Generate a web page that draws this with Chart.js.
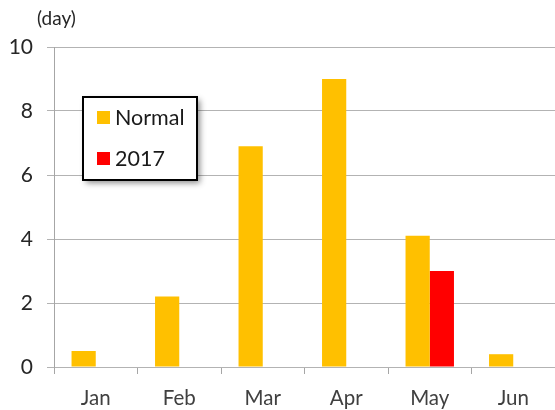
<!DOCTYPE html>
<html>
<head>
<meta charset="utf-8">
<script src="https://cdn.jsdelivr.net/npm/chart.js@4"></script>
<style>
  html, body { margin: 0; padding: 0; background: #fff; }
  #wrap { width: 555px; height: 410px; position: relative; }
</style>
</head>
<body>
<div id="wrap"><canvas id="chart"></canvas></div>
<script>
// chart data
const months = ['Jan', 'Feb', 'Mar', 'Apr', 'May', 'Jun'];
const normalDays = [0.5, 2.2, 6.9, 9.0, 4.1, 0.4];
const days2017 = [null, null, null, null, 3.0, null];
const yTicks = [0, 2, 4, 6, 8, 10];
const unitLabel = '(day)';

const FONT = 'Lato, "Liberation Sans", sans-serif';

// draws the "(day)" caption and the boxed legend with a drop shadow
const extras = {
  id: 'extras',
  afterDraw(chart) {
    const ctx = chart.ctx;
    ctx.save();
    ctx.fillStyle = '#262626';
    ctx.font = '19px ' + FONT;
    ctx.textAlign = 'left';
    ctx.textBaseline = 'middle';
    ctx.fillText(unitLabel, 37, 19);

    // legend box
    const bx = 83, by = 97, bw = 114, bh = 83;
    ctx.shadowColor = 'rgba(0,0,0,0.45)';
    ctx.shadowBlur = 6;
    ctx.shadowOffsetX = 3;
    ctx.shadowOffsetY = 3;
    ctx.fillStyle = '#fff';
    ctx.fillRect(bx, by, bw, bh);
    ctx.shadowColor = 'transparent';
    ctx.lineWidth = 2;
    ctx.strokeStyle = '#000';
    ctx.strokeRect(bx, by, bw, bh);

    ctx.font = '21.5px ' + FONT;
    chart.data.datasets.forEach((ds, i) => {
      const y = 118 + i * 41;
      ctx.fillStyle = ds.backgroundColor;
      ctx.fillRect(97, y - 7, 13, 13);
      ctx.fillStyle = '#1a1a1a';
      ctx.fillText(ds.label, 115, y);
    });
    ctx.restore();
  }
};

new Chart(document.getElementById('chart'), {
  type: 'bar',
  data: {
    labels: months,
    datasets: [
      { label: 'Normal', data: normalDays, backgroundColor: '#FFC000', barPercentage: 1, categoryPercentage: 0.58 },
      { label: '2017', data: days2017, backgroundColor: '#FF0000', barPercentage: 1, categoryPercentage: 0.58 }
    ]
  },
  options: {
    responsive: true,
    maintainAspectRatio: false,
    animation: false,
    layout: { padding: { top: 47, right: 0, left: 0, bottom: 0 } },
    plugins: { legend: { display: false }, tooltip: { enabled: false } },
    scales: {
      x: {
        grid: { drawOnChartArea: false, offset: true, tickLength: 7, color: '#a6a6a6' },
        border: { color: '#b3b3b3' },
        ticks: { color: '#404040', font: { family: FONT, size: 20.5 }, padding: 12 },
        afterFit(scale) { scale.height = 43; }
      },
      y: {
        min: 0,
        max: 10,
        afterBuildTicks(scale) { scale.ticks = yTicks.map(v => ({ value: v })); },
        grid: { color: '#b3b3b3', tickLength: 7 },
        border: { color: '#a6a6a6' },
        ticks: { color: '#262626', font: { family: FONT, size: 21 }, padding: 14 },
        afterFit(scale) { scale.width = 54; }
      }
    }
  },
  plugins: [extras]
});
</script>
</body>
</html>
